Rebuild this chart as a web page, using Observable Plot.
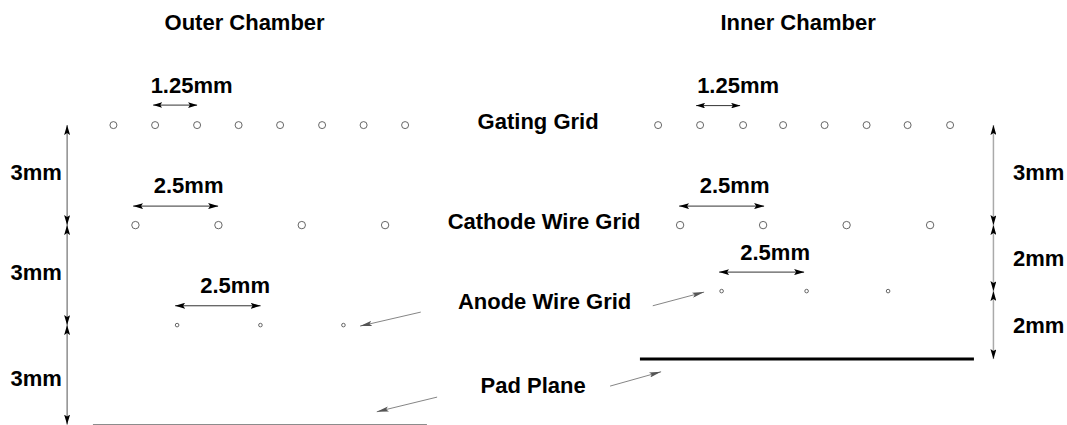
<!DOCTYPE html>
<html>
<head>
<meta charset="utf-8">
<style>html,body{margin:0;padding:0;background:#fff}svg{display:block}</style>
<script src="https://cdn.jsdelivr.net/npm/d3@7"></script>
<script src="https://cdn.jsdelivr.net/npm/@observablehq/plot@0.6"></script>
</head>
<body>
<script>
// All positions in diagram millimetres (1 mm = 33.33 px)
const gatingOuter = [3.40, 4.65, 5.91, 7.155, 8.40, 9.66, 10.905, 12.15];
const cathodeOuter = [4.06, 6.55, 9.05, 11.55];
const anodeOuter = [5.31, 7.81, 10.30];
const gatingInner = [19.74, 21.00, 22.29, 23.49, 24.735, 25.995, 27.225, 28.50];
const cathodeInner = [20.40, 22.89, 25.395, 27.90];
const anodeInner = [21.645, 24.195, 26.64];
const gridDepths = {gating: 3.75, cathode: 6.75, anodeOuter: 9.75, anodeInner: 8.73};

const pitchSpans = [
  [4.59, 5.91, 3.15], [3.99, 6.54, 6.18], [5.25, 7.815, 9.17],
  [20.88, 22.2, 3.165], [20.37, 22.92, 6.18], [21.57, 24.12, 8.16]
];
const gapsLeft = [[3.75, 6.75], [6.75, 9.75], [9.75, 12.735]];
const gapsRight = [[3.75, 6.75], [6.75, 8.73], [8.73, 10.77]];
const gapLeftX = 2.01, gapRightX = 29.8;
const leaders = [
  [12.62, 9.36, 10.8, 9.78], [13.11, 11.91, 11.3, 12.35],
  [19.58, 9.17, 21.12, 8.76], [18.3, 11.58, 19.83, 11.15]
];
const padOuter = [2.8, 12.82, 12.745];
const padInner = [19.21, 29.23, 10.77];

const labels = [
  ["Outer Chamber", 7.335, 0.66], ["Inner Chamber", 23.94, 0.66],
  ["1.25mm", 5.745, 2.55], ["1.25mm", 22.14, 2.55],
  ["Gating Grid", 16.14, 3.63],
  ["2.5mm", 5.655, 5.55], ["2.5mm", 22.035, 5.55],
  ["Cathode Wire Grid", 16.32, 6.63],
  ["2.5mm", 7.05, 8.55], ["2.5mm", 23.25, 7.56],
  ["Anode Wire Grid", 16.335, 9.03],
  ["Pad Plane", 15.99, 11.55],
  ["3mm", 1.08, 5.16], ["3mm", 1.08, 8.16], ["3mm", 1.08, 11.34],
  ["3mm", 31.155, 5.16], ["2mm", 31.155, 7.74], ["2mm", 31.155, 9.75]
];

function head(len, wid, fill) {
  return () => {
    const m = document.createElementNS("http://www.w3.org/2000/svg", "marker");
    m.setAttribute("viewBox", `0 ${-wid} ${len} ${2 * wid}`);
    m.setAttribute("refX", len);
    m.setAttribute("refY", 0);
    m.setAttribute("markerUnits", "userSpaceOnUse");
    m.setAttribute("markerWidth", len);
    m.setAttribute("markerHeight", 2 * wid);
    m.setAttribute("orient", "auto-start-reverse");
    const p = document.createElementNS("http://www.w3.org/2000/svg", "path");
    p.setAttribute("d", `M0,${-wid}L${len},0L0,${wid}L${len * 0.2},0Z`);
    p.setAttribute("fill", fill);
    p.setAttribute("stroke", "none");
    m.appendChild(p);
    return m;
  };
}

const row = (xs, key) => xs.map(x => ({x, y: gridDepths[key]}));
const wireStyle = {x: "x", y: "y", fill: "none", stroke: "#555", strokeWidth: 0.9};

const chart = Plot.plot({
  width: 1067, height: 425,
  marginTop: 0, marginRight: 0, marginBottom: 0, marginLeft: 0,
  x: {domain: [0, 32.01], range: [-0.4, 1066.6], axis: null},
  y: {domain: [0, 12.75], range: [-0.4, 424.6], axis: null},
  style: {background: "#fff"},
  marks: [
    Plot.dot([...row(gatingOuter, "gating"), ...row(gatingInner, "gating")], {...wireStyle, r: 3.5}),
    Plot.dot([...row(cathodeOuter, "cathode"), ...row(cathodeInner, "cathode")], {...wireStyle, r: 3.7}),
    Plot.dot([...row(anodeOuter, "anodeOuter"), ...row(anodeInner, "anodeInner")], {...wireStyle, r: 1.8}),
    Plot.link(pitchSpans.slice(0, 1).concat(pitchSpans.slice(3, 4)), {
      x1: d => d[0], x2: d => d[1], y1: d => d[2], y2: d => d[2],
      stroke: "#333", strokeWidth: 1, markerStart: head(9, 2.8, "#000"), markerEnd: head(9, 2.8, "#000")
    }),
    Plot.link(pitchSpans.filter((d, i) => i !== 0 && i !== 3), {
      x1: d => d[0], x2: d => d[1], y1: d => d[2], y2: d => d[2],
      stroke: "#333", strokeWidth: 1, markerStart: head(10, 3, "#000"), markerEnd: head(10, 3, "#000")
    }),
    Plot.link(gapsLeft, {
      x1: gapLeftX, x2: gapLeftX, y1: d => d[0], y2: d => d[1],
      stroke: "#555", strokeWidth: 1, markerStart: head(10, 3, "#000"), markerEnd: head(10, 3, "#000")
    }),
    Plot.link(gapsRight, {
      x1: gapRightX, x2: gapRightX, y1: d => d[0], y2: d => d[1],
      stroke: "#aaa", strokeWidth: 1.5, markerStart: head(10, 3, "#000"), markerEnd: head(10, 3, "#000")
    }),
    Plot.link(leaders, {
      x1: d => d[0], y1: d => d[1], x2: d => d[2], y2: d => d[3],
      stroke: "#666", strokeWidth: 0.8, markerEnd: head(12, 2.6, "#555")
    }),
    Plot.ruleY([padOuter], {x1: d => d[0], x2: d => d[1], y: d => d[2], stroke: "#666", strokeWidth: 1.2}),
    Plot.ruleY([padInner], {x1: d => d[0], x2: d => d[1], y: d => d[2], stroke: "#000", strokeWidth: 3}),
    Plot.text(labels, {
      text: d => d[0], x: d => d[1], y: d => d[2], dy: 0.6,
      fontFamily: "Liberation Sans", fontWeight: "bold", fontSize: 22, fill: "#000",
      textAnchor: "middle", lineAnchor: "middle"
    })
  ]
});
document.body.appendChild(chart);
</script>
</body>
</html>
